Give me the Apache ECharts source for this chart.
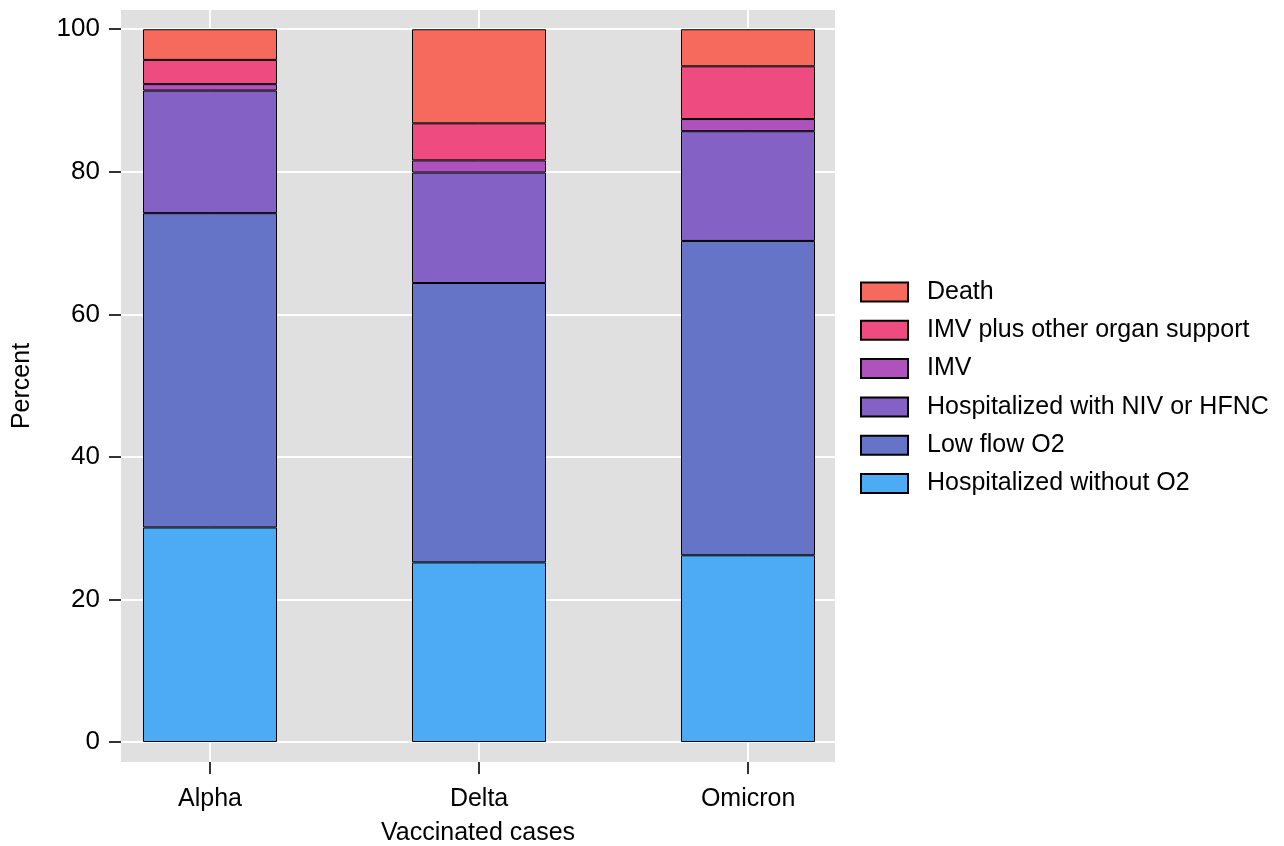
<!DOCTYPE html>
<html>
<head>
<meta charset="utf-8">
<script src="https://cdn.jsdelivr.net/npm/echarts@6/dist/echarts.min.js"></script>
<style>
  html, body { margin: 0; padding: 0; background: #fff; }
  #chart { width: 1284px; height: 846px; }
</style>
</head>
<body>
<div id="chart"></div>
<script>
var categories = ['Alpha', 'Delta', 'Omicron'];
var yTicks = [0, 20, 40, 60, 80, 100];

// percent of vaccinated cases, bottom to top
var withoutO2 = [30.1, 25.2, 26.2];
var lowFlowO2 = [44.1, 39.2, 44.1];
var nivHfnc   = [17.2, 15.5, 15.4];
var imv       = [0.9, 1.7, 1.7];
var imvPlus   = [3.4, 5.2, 7.4];
var death     = [4.3, 13.2, 5.2];

var seriesNames = ['Hospitalized without O2', 'Low flow O2', 'Hospitalized with NIV or HFNC',
                   'IMV', 'IMV plus other organ support', 'Death'];
var seriesValues = [withoutO2, lowFlowO2, nivHfnc, imv, imvPlus, death];
var colors = ['#4DABF5', '#6574C6', '#8461C4', '#B052BE', '#EE4B80', '#F66A5E'];

var font = 'Liberation Sans, Arial, sans-serif';
var yMin = -2.8, yMax = 102.7;

var myChart = echarts.init(document.getElementById('chart'));

var option = {
    animation: false,
    textStyle: { fontFamily: font },
    grid: [
        // grey panel with ticks, labels and white grid lines
        { left: 121, top: 10, width: 714, height: 752, outerBoundsMode: 'none',
          show: true, backgroundColor: '#E0E0E0', borderWidth: 0 },
        // bars: one band of 269px per category, centred on the panel ticks
        { left: 75.5, top: 10, width: 807, height: 752, outerBoundsMode: 'none' }
    ],
    legend: {
        data: seriesNames.slice().reverse(),
        orient: 'vertical',
        left: 860, top: 279.5,
        padding: 0,
        icon: 'rect',
        itemWidth: 47, itemHeight: 19,
        itemGap: 13.3,
        textStyle: { fontSize: 25, lineHeight: 25, color: '#000', padding: [0, 0, 0, 14] }
    },
    xAxis: [{
        type: 'value',
        gridIndex: 0,
        min: 0.669, max: 3.323,
        name: 'Vaccinated cases',
        nameLocation: 'middle',
        nameGap: 59,
        nameTextStyle: { fontSize: 25, color: '#000' },
        axisLine: { show: false, onZero: false },
        axisTick: { show: true, length: 12, customValues: [1, 2, 3], lineStyle: { color: '#333', width: 2 } },
        axisLabel: {
            customValues: [1, 2, 3], margin: 25, fontSize: 25, color: '#000',
            formatter: function (v) { return categories[Math.round(v) - 1]; }
        },
        splitLine: { show: true, lineStyle: { color: '#fff', width: 2 } }
    }, {
        type: 'category',
        gridIndex: 1,
        data: categories,
        show: false
    }],
    yAxis: [{
        type: 'value',
        gridIndex: 0,
        min: yMin, max: yMax,
        name: 'Percent',
        nameLocation: 'middle',
        nameGap: 86,
        nameTextStyle: { fontSize: 25, color: '#000' },
        axisLine: { show: false, onZero: false },
        axisTick: { show: true, length: 12, customValues: yTicks, lineStyle: { color: '#333', width: 2 } },
        axisLabel: { customValues: yTicks, margin: 21, fontSize: 26, color: '#000' },
        splitLine: { show: true, lineStyle: { color: '#fff', width: 2 } }
    }, {
        type: 'value',
        gridIndex: 1,
        min: yMin, max: yMax,
        show: false,
        splitLine: { show: false }
    }],
    series: seriesNames.map(function (name, i) {
        return {
            name: name,
            type: 'bar',
            stack: 'total',
            xAxisIndex: 1,
            yAxisIndex: 1,
            barWidth: 134,
            itemStyle: { color: colors[i], borderColor: '#000', borderWidth: 1 },
            data: seriesValues[i]
        };
    })
};

myChart.setOption(option);
</script>
</body>
</html>
